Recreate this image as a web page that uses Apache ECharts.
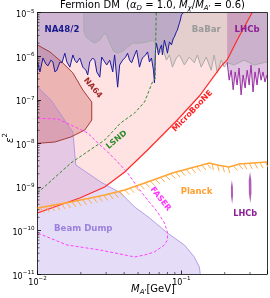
<!DOCTYPE html>
<html><head><meta charset="utf-8">
<script src="https://cdn.jsdelivr.net/npm/echarts@6/dist/echarts.min.js"></script>
<style>html,body{margin:0;padding:0;background:#fff}#c{width:270px;height:298px}</style>
</head><body><div id="c"></div>
<script>
// All values: [log10(M_A' / GeV), log10(eps^2)]
const X_MIN = -2, X_MAX = -0.405, Y_MIN = -11, Y_MAX = -5;
const X_TICKS = [-2, -1];
const Y_TICKS = [-11, -10, -9, -8, -7, -6, -5];
const MINOR_MULT = [2, 3, 4, 5, 6, 7, 8, 9];

const MICROBOONE = [[-2.0,-9.60],[-1.844,-9.415],[-1.706,-9.254],[-1.533,-9.002],[-1.394,-8.658],[-1.235,-8.152],[-1.028,-7.464],[-0.875,-6.913],[-0.716,-6.201],[-0.682,-6.086],[-0.612,-5.627],[-0.509,-5.0]];
const BEAMDUMP = [[-2.0,-6.706],[-1.907,-7.004],[-1.754,-7.739],[-1.734,-8.497],[-1.561,-8.887],[-1.422,-9.140],[-1.325,-9.461],[-1.221,-9.714],[-1.097,-10.058],[-0.979,-10.334],[-0.910,-10.609],[-0.875,-10.839],[-0.869,-11.0]];
const NA64 = [[-2.0,-5.742],[-1.913,-5.902],[-1.824,-6.155],[-1.754,-6.384],[-1.685,-6.775],[-1.623,-7.050],[-1.623,-7.464],[-1.671,-7.693],[-1.768,-7.854],[-1.879,-7.969],[-2.0,-8.0]];
const NA48 = [[-2.00,-6.13],[-1.983,-6.36],[-1.962,-6.04],[-1.941,-6.18],[-1.927,-6.22],[-1.907,-6.09],[-1.893,-6.13],[-1.879,-6.36],[-1.865,-6.32],[-1.844,-6.13],[-1.830,-6.15],[-1.810,-5.93],[-1.796,-6.13],[-1.775,-6.25],[-1.754,-5.97],[-1.741,-6.09],[-1.727,-6.15],[-1.706,-6.04],[-1.685,-6.25],[-1.664,-6.32],[-1.651,-6.43],[-1.637,-6.13],[-1.616,-6.04],[-1.602,-6.09],[-1.588,-6.36],[-1.567,-6.48],[-1.554,-6.02],[-1.533,-6.13],[-1.519,-6.20],[-1.498,-6.09],[-1.477,-6.36],[-1.464,-5.97],[-1.443,-6.71],[-1.429,-6.20],[-1.408,-6.09],[-1.388,-6.02],[-1.374,-5.93],[-1.360,-6.09],[-1.346,-6.15],[-1.325,-5.97],[-1.311,-5.86],[-1.291,-6.25],[-1.277,-6.09],[-1.270,-6.04],[-1.249,-5.97],[-1.235,-5.90],[-1.222,-6.13],[-1.208,-6.04],[-1.194,-6.32],[-1.187,-6.61],[-1.180,-5.86],[-1.173,-5.70],[-1.159,-5.97],[-1.152,-5.86],[-1.138,-5.74],[-1.132,-5.97],[-1.118,-5.63],[-1.104,-5.81],[-1.097,-5.93],[-1.083,-5.67],[-1.069,-5.74],[-1.055,-5.58],[-1.049,-5.56],[-1.035,-5.44],[-1.028,-5.40],[-1.014,-5.24],[-1.007,-5.17],[-1.000,-5.05],[-0.986,-5.00]];
const BABAR = [[-1.678,-5.0],[-1.678,-5.40],[-1.664,-5.56],[-1.637,-5.63],[-1.602,-5.70],[-1.567,-5.63],[-1.547,-5.53],[-1.526,-5.47],[-1.505,-5.63],[-1.477,-5.86],[-1.450,-5.93],[-1.415,-5.90],[-1.381,-5.81],[-1.339,-5.70],[-1.291,-5.70],[-1.235,-5.67],[-1.201,-5.63],[-1.173,-5.74],[-1.152,-5.93],[-1.132,-5.81],[-1.104,-6.09],[-1.083,-5.97],[-1.062,-6.25],[-1.035,-6.04],[-1.014,-5.97],[-0.979,-6.20],[-0.945,-6.02],[-0.910,-6.15],[-0.889,-5.97],[-0.862,-6.25],[-0.827,-6.02],[-0.793,-6.32],[-0.772,-5.97],[-0.751,-6.38],[-0.723,-6.09],[-0.702,-6.25],[-0.682,-6.15],[-0.633,-6.20],[-0.564,-6.09],[-0.495,-6.20],[-0.405,-6.13]];
const LHCB = [[-0.682,-5.0],[-0.682,-6.13],[-0.668,-6.55],[-0.654,-6.32],[-0.640,-6.77],[-0.626,-6.36],[-0.613,-6.66],[-0.599,-6.27],[-0.585,-6.89],[-0.571,-6.43],[-0.557,-6.73],[-0.543,-6.32],[-0.529,-6.66],[-0.516,-6.20],[-0.502,-6.82],[-0.488,-6.36],[-0.474,-6.66],[-0.460,-6.27],[-0.446,-6.55],[-0.433,-6.36],[-0.419,-6.59],[-0.405,-6.43]];
const LHCB_ISLAND1 = [[-0.649,-8.85],[-0.642,-9.00],[-0.641,-9.20],[-0.647,-9.39],[-0.655,-9.22],[-0.656,-9.00]];
const LHCB_ISLAND2 = [[-0.523,-8.66],[-0.514,-8.85],[-0.513,-9.15],[-0.521,-9.37],[-0.531,-9.15],[-0.532,-8.85]];
const LSND = [[-2.0,-9.140],[-1.768,-8.451],[-1.533,-7.923],[-1.422,-7.532],[-1.325,-7.303],[-1.256,-7.050],[-1.201,-6.591],[-1.183,-6.522],[-1.175,-6.499],[-1.175,-5.0]];
const FASER = [[-2.0,-7.425],[-1.858,-7.441],[-1.768,-7.578],[-1.651,-7.762],[-1.581,-7.992],[-1.512,-8.198],[-1.443,-8.428],[-1.374,-8.680],[-1.305,-9.002],[-1.235,-9.300],[-1.166,-9.576],[-1.118,-9.828],[-1.097,-10.035],[-1.097,-10.219],[-1.118,-10.334],[-1.187,-10.494],[-1.256,-10.563],[-1.325,-10.609],[-1.567,-10.448],[-1.796,-10.334],[-2.0,-10.058]];
const PLANCK = [[-2.0,-9.484],[-1.768,-9.346],[-1.533,-9.186],[-1.394,-9.071],[-1.235,-8.887],[-1.062,-8.681],[-0.806,-8.451],[-0.751,-8.497],[-0.668,-8.543],[-0.599,-8.474],[-0.405,-8.428]];

const LABEL_NAMES = ['NA48/2','BaBar','LHCb','NA64','LSND','MicroBooNE','FASER','Planck','LHCb','Beam Dump'];
const LABEL_AT = [[-1.830,-5.40],[-0.827,-5.40],[-0.543,-5.40],[-1.616,-6.73],[-1.450,-7.92],[-0.923,-7.26],[-1.145,-9.28],[-0.895,-9.12],[-0.557,-9.63],[-1.682,-9.96]];

const LABEL_STYLE = [
  {c:'#1a1a8c', r:0, s:8.6},{c:'#9a9a9a', r:0, s:8.6},{c:'#8b1f94', r:0, s:8.6},
  {c:'#a02c2c', r:-50, s:8},{c:'#2a8a2a', r:40, s:8},{c:'#ff2020', r:46, s:8},
  {c:'#ff30ff', r:-52, s:8},{c:'#ff9f30', r:0, s:8.5},{c:'#8b1f94', r:0, s:8.2},{c:'#9b80dd', r:0, s:8.6}
];

const FONT = 'DejaVu Sans';
const ORANGE = '#ffa534';

function poly(pts, fill, z, stroke, lw) {
  return {type:'custom', data: pts, z, clip:true, silent:true, encode:{x:0,y:1},
    renderItem:(params, api) => {
      if (params.dataIndex !== 0) return null;
      return {type:'polygon', shape:{points: pts.map(p => api.coord(p))},
        style:{fill, stroke: stroke || null, lineWidth: lw || 0}};
    }};
}
function line(pts, color, z, lw, dash) {
  return {type:'line', data: pts, z, showSymbol:false, symbol:'none', silent:true, clip:true,
    lineStyle:{color, width: lw, type: dash ? [3,2] : 'solid'}};
}
function polyline(pts, color, z, lw) {
  return {type:'custom', data: pts, z, clip:true, silent:true, encode:{x:0,y:1},
    renderItem:(params, api) => {
      if (params.dataIndex !== 0) return null;
      return {type:'polyline', shape:{points: pts.map(p => api.coord(p))}, style:{stroke:color, lineWidth:lw, fill:null}};
    }};
}

const xMinor = [], yMinor = [];
X_TICKS.forEach(n => MINOR_MULT.forEach(k => { const v = n + Math.log10(k); if (v < X_MAX) xMinor.push([v, Y_MIN]); }));
Y_TICKS.slice(0, -1).forEach(n => MINOR_MULT.forEach(k => { yMinor.push([X_MIN, n + Math.log10(k)]); }));

const tickRich = {
  b:{fontSize:8, fontFamily:FONT, color:'#000', lineHeight:9, padding:[3,0,0,0], verticalAlign:'top'},
  s:{fontSize:5.6, fontFamily:FONT, color:'#000', lineHeight:6, verticalAlign:'top'}
};
const fmt = v => Math.abs(v - Math.round(v)) < 1e-6 ? '{b|10}{s|\u2212' + Math.abs(Math.round(v)) + '}' : '';

const axisCommon = {
  type:'value', splitLine:{show:false}, z:10,
  axisLine:{show:true, onZero:false, lineStyle:{color:'#000', width:0.8}},
};

const series = [
  poly(MICROBOONE.concat([[X_MIN, Y_MAX]]), 'rgba(255,190,190,0.45)', 1),
  poly(BEAMDUMP.concat([[X_MIN, Y_MIN]]), 'rgba(175,150,235,0.33)', 2),
  poly(NA64, 'rgba(190,60,60,0.28)', 3),
  poly(BABAR.concat([[X_MAX, Y_MAX]]), 'rgba(130,130,130,0.22)', 4),
  poly(NA48.concat([[X_MIN, Y_MAX]]), 'rgba(115,100,185,0.34)', 5),
  poly(LHCB.concat([[X_MAX, Y_MAX]]), 'rgba(150,60,150,0.30)', 6),
  poly(LHCB_ISLAND1, 'rgba(150,40,160,0.75)', 6),
  poly(LHCB_ISLAND2, 'rgba(150,40,160,0.75)', 6),
  polyline(BEAMDUMP, '#a58be0', 7, 0.8),
  polyline(NA64, '#a83a3a', 7, 1),
  polyline(BABAR, '#aaaaaa', 7, 1),
  polyline(NA48, '#1c1c9c', 8, 1),
  polyline(LHCB.slice(1), '#9b2fa5', 8, 1),
  line(LSND, '#2e8b2e', 9, 1, true),
  line(FASER, '#ff40ff', 9, 1, true),
  polyline(MICROBOONE, '#ff2a2a', 9, 1.2),
  {type:'custom', data: PLANCK, z:11, clip:true, silent:true, encode:{x:0,y:1},
    renderItem:(params, api) => {
      if (params.dataIndex !== 0) return null;
      const P = PLANCK.map(p => api.coord(p));
      const children = [];
      const spacing = 5.4, L = 6.5;
      let acc = spacing / 2;
      for (let i = 0; i < P.length - 1; i++) {
        const [x0, y0] = P[i], [x1, y1] = P[i + 1];
        const dx = x1 - x0, dy = y1 - y0, len = Math.hypot(dx, dy);
        const tx = dx / len, ty = dy / len, nx = -ty, ny = tx;
        const vx = (nx * 0.9 + tx * 0.42) * L, vy = (ny * 0.9 + ty * 0.42) * L;
        let s = acc;
        while (s < len) {
          const px = x0 + tx * s, py = y0 + ty * s;
          children.push({type:'line', shape:{x1:px, y1:py, x2:px + vx, y2:py + vy}, style:{stroke:ORANGE, lineWidth:0.9}});
          s += spacing;
        }
        acc = s - len;
      }
      children.push({type:'polyline', shape:{points:P}, style:{stroke:ORANGE, lineWidth:1.6, fill:null}});
      return {type:'group', children};
    }},
  {type:'custom', data: LABEL_AT, z:12, clip:false, silent:true, encode:{x:0,y:1},
    renderItem:(params, api) => {
      const i = params.dataIndex, st = LABEL_STYLE[i];
      const p = api.coord(LABEL_AT[i]);
      return {type:'text', x:p[0], y:p[1], rotation: st.r * Math.PI / 180,
        style:{text: LABEL_NAMES[i], fill: st.c, font: 'bold ' + st.s + 'px "' + FONT + '"', align:'center', verticalAlign:'middle'}};
    }},
  {type:'custom', data: xMinor.concat(yMinor), z:13, clip:false, silent:true, encode:{x:0,y:1},
    renderItem:(params, api) => {
      const d = params.dataIndex < xMinor.length ? xMinor[params.dataIndex] : yMinor[params.dataIndex - xMinor.length];
      const p = api.coord(d);
      const isX = params.dataIndex < xMinor.length;
      return {type:'line', shape: isX ? {x1:p[0], y1:p[1], x2:p[0], y2:p[1] - 2} : {x1:p[0], y1:p[1], x2:p[0] + 2, y2:p[1]},
        style:{stroke:'#000', lineWidth:0.6}};
    }}
];

const chart = echarts.init(document.getElementById('c'), null, {renderer:'canvas'});
chart.setOption({
  animation:false,
  grid:{left:37.5, right:2, top:12.7, bottom:24, containLabel:false},
  xAxis:[
    Object.assign({}, axisCommon, {position:'bottom', min:X_MIN, max:X_MAX, interval:1,
      axisTick:{show:true, inside:true, length:3.5, lineStyle:{color:'#000', width:0.8}},
      axisLabel:{show:true, margin:2, formatter: fmt, rich: tickRich, showMaxLabel:true, showMinLabel:true}}),
    Object.assign({}, axisCommon, {position:'top', min:X_MIN, max:X_MAX, interval:1, axisTick:{show:false}, axisLabel:{show:false}})
  ],
  yAxis:[
    Object.assign({}, axisCommon, {position:'left', min:Y_MIN, max:Y_MAX, interval:1,
      axisTick:{show:true, inside:true, length:3.5, lineStyle:{color:'#000', width:0.8}},
      axisLabel:{show:true, margin:3, formatter: fmt, rich: tickRich}}),
    Object.assign({}, axisCommon, {position:'right', min:Y_MIN, max:Y_MAX, interval:1, axisTick:{show:false}, axisLabel:{show:false}})
  ],
  graphic:[
    {type:'text', x:152.5, y:5.8, z:100, style:{
      text:"{n|Fermion DM  (}{i|\u03b1}{u|D}{n| = 1.0, }{i|M}{u|\u03c7}{n|/}{i|M}{u|A'}{n| = 0.6)}",
      align:'center', verticalAlign:'middle',
      rich:{
        n:{fontSize:10, fontFamily:FONT, fill:'#000', lineHeight:11, padding:[0,0,1,0], verticalAlign:'top'},
        i:{fontSize:10, fontFamily:FONT, fontStyle:'italic', fill:'#000', lineHeight:11, padding:[0,0,1,0], verticalAlign:'top'},
        u:{fontSize:7, fontFamily:FONT, fontStyle:'italic', fill:'#000', lineHeight:7, verticalAlign:'bottom'}
      }}},
    {type:'text', x:153, y:290, z:100, style:{
      text:"{i|M}{u|A'}{n|[GeV]}", align:'center', verticalAlign:'middle',
      rich:{
        n:{fontSize:10, fontFamily:FONT, fill:'#000', lineHeight:11, padding:[0,0,1,0], verticalAlign:'top'},
        i:{fontSize:10, fontFamily:FONT, fontStyle:'italic', fill:'#000', lineHeight:11, padding:[0,0,1,0], verticalAlign:'top'},
        u:{fontSize:7, fontFamily:FONT, fontStyle:'italic', fill:'#000', lineHeight:7, verticalAlign:'bottom'}
      }}},
    {type:'text', x:7, y:138, rotation:Math.PI/2, z:100, style:{
      text:'{i|\u03b5}{s|2}', align:'center', verticalAlign:'middle',
      rich:{
        i:{fontSize:10, fontFamily:FONT, fontStyle:'italic', fill:'#000', lineHeight:10, padding:[3,0,0,0], verticalAlign:'top'},
        s:{fontSize:7, fontFamily:FONT, fill:'#000', lineHeight:7, verticalAlign:'top'}
      }}}
  ],
  series
});
</script>
</body></html>
